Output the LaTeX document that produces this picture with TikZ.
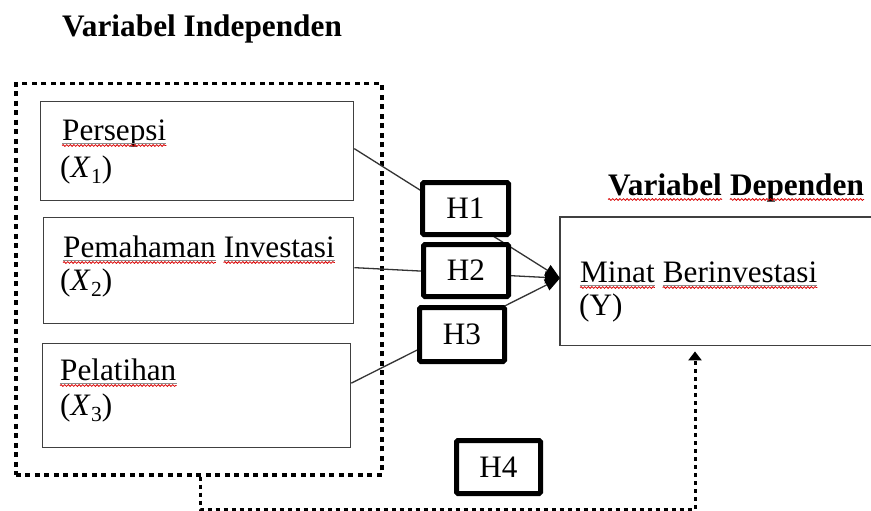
\documentclass[tikz,border=0pt]{standalone}
\usepackage{fontspec}
\setmainfont{Liberation Serif}
\usetikzlibrary{arrows.meta,decorations.pathmorphing}
\tikzset{
  txt/.style={inner sep=0pt, anchor=base west, font=\fontsize{31.2}{36}\selectfont},
  ttl/.style={inner sep=0pt, anchor=base west, font=\fontsize{31.3}{36}\selectfont\bfseries},
  varbox/.style={draw=black!75, line width=1.3pt, inner sep=0pt, anchor=north west},
  hbox/.style={draw=black, line width=5pt, rounded corners=1.5pt, fill=white, inner sep=0pt, font=\fontsize{31.2}{36}\selectfont},
  grpbox/.style={draw=black, line width=3.5pt, dash pattern=on 5pt off 4.5pt, inner sep=0pt, anchor=north west},
  conn/.style={draw=black!80, line width=1.3pt, -{Triangle[length=15pt,width=12pt,color=black]}},
  dconn/.style={draw=black, line width=3pt, dash pattern=on 4pt off 4pt, -{Triangle[length=9pt,width=13pt]}},
  squig/.style={draw=red!85!black, line width=0.8pt, decorate, decoration={snake, amplitude=0.9pt, segment length=3.6pt}},
  uline/.style={draw=black!45, line width=0.6pt},
}
\newcommand{\wavyline}[1]{%
  \draw[uline] ([yshift=-3pt]#1.base west) -- ([yshift=-3pt]#1.base east);
  \draw[squig] ([yshift=-5.5pt]#1.base west) -- ([yshift=-5.5pt]#1.base east);}
\newcommand{\wavyonly}[1]{%
  \draw[squig] ([yshift=-4.5pt]#1.base west) -- ([yshift=-4.5pt]#1.base east);}
\newcommand{\xsub}[1]{(\textit{X}\kern0.5pt\raisebox{-0.22em}{\fontsize{21.5}{21.5}\selectfont #1})}
\begin{document}
\begin{tikzpicture}[x=1pt,y=-1pt]
\useasboundingbox (0,0) rectangle (871,511);
\fill[white] (0,0) rectangle (871,511);

% titles
\node[ttl] (ti) at (62,37) {Variabel Independen};
\node[ttl] (td1) at (608,195) {Variabel};
\node[ttl] (td2) at ([xshift=7.8pt]td1.base east) {Dependen};
\wavyonly{td1}
\wavyonly{td2}

% group box
\node[grpbox, minimum width=366pt, minimum height=391pt] (grp) at (14,82) {};

% variable boxes
\node[varbox, minimum width=313pt, minimum height=99pt] (x1) at (40,101) {};
\node[varbox, minimum width=310pt, minimum height=106pt] (x2) at (43,217) {};
\node[varbox, minimum width=308pt, minimum height=104pt] (x3) at (42,343) {};
\node[inner sep=0pt, anchor=north west, minimum width=311pt, minimum height=128pt] (y) at (560,217) {};
\draw[draw=black!75, line width=1.3pt] (y.north east) -- (y.north west) -- (y.south west) -- (y.south east);

% texts in boxes
\node[txt] (p1) at (62,140) {Persepsi};
\node[txt] (p1b) at (60,177) {\xsub{1}};
\node[txt] (p2) at (63,257) {Pemahaman};
\node[txt] (p2a) at ([xshift=7.8pt]p2.base east) {Investasi};
\node[txt] (p2b) at (60,290) {\xsub{2}};
\node[txt] (p3) at (60,380) {Pelatihan};
\node[txt] (p3b) at (60,415) {\xsub{3}};
\node[txt] (m1) at (580,282) {Minat};
\node[txt] (m2) at ([xshift=7.8pt]m1.base east) {Berinvestasi};
\node[txt] (m3) at (579,315) {(Y)};
\wavyline{p1}
\wavyline{p2}
\wavyline{p2a}
\wavyline{p3}
\wavyline{m1}
\wavyline{m2}

% connectors
\coordinate (tip) at ([yshift=3pt]y.west);
\draw[conn] ([yshift=2.5pt]x1.east) -- (tip);
\draw[conn] ([yshift=3pt]x2.east) -- (tip);
\draw[conn] ([yshift=12.5pt]x3.east) -- (tip);

% hypothesis boxes
\node[hbox, minimum width=86pt, minimum height=52pt] (h1) at (465.5,208.5) {H1};
\node[hbox, minimum width=85pt, minimum height=52pt] (h2) at (466,270.5) {H2};
\node[hbox, minimum width=85pt, minimum height=54pt] (h3) at (462,334.5) {H3};
\node[hbox, minimum width=84pt, minimum height=53pt] (h4) at (498.5,467) {H4};

% dotted connector from group to Y
\coordinate (c1) at (200,509);
\coordinate (c2) at (695,509);
\draw[dconn, shorten >=6pt] (grp.south west -| c1) -- (c1) -- (c2) -- (y.south west -| c2);
\end{tikzpicture}
\end{document}
